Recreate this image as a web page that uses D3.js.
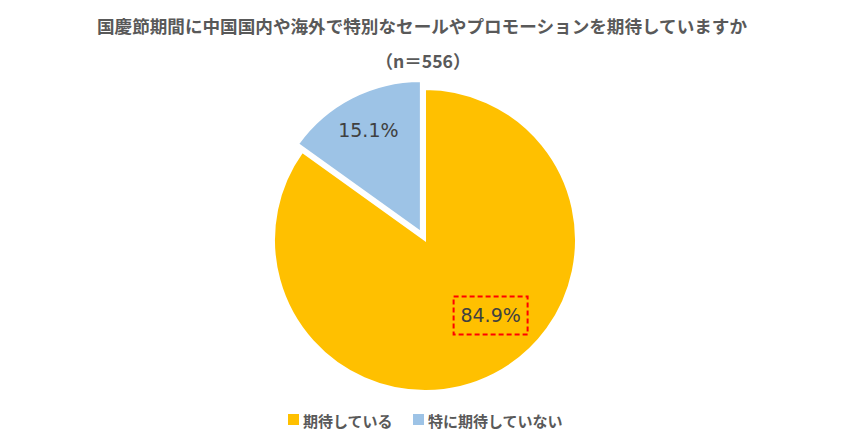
<!DOCTYPE html>
<html><head><meta charset="utf-8">
<script src="https://cdn.jsdelivr.net/npm/d3@7"></script>
<style>body{margin:0;background:#fff}svg{display:block}</style>
</head><body>
<svg id="c" width="847" height="443"></svg>
<script>
const titleLines = ["国慶節期間に中国国内や海外で特別なセールやプロモーションを期待していますか", "（n＝556）"];
const categories = ["期待している", "特に期待していない"];
const values = [84.9, 15.1];
const colors = ["#FFC000", "#9DC3E6"];

const svg = d3.select("#c");
const W = 847, H = 443;
const cx = 425, cy = 240, R = 151;
const fontJP = "'Noto Sans CJK JP','Noto Sans',sans-serif";

svg.append("g").selectAll("text").data(titleLines).join("text")
  .attr("x", (d,i)=> i===0 ? 422 : 423).attr("y", (d,i)=> i===0 ? 33 : 68)
  .attr("text-anchor","middle")
  .attr("font-family", fontJP).attr("font-weight","bold")
  .attr("font-size", 17.6)
  .attr("fill","#595959").text(d=>d);

const pie = d3.pie().sort(null).value(d=>d.v).startAngle(0).endAngle(2*Math.PI);
const data = pie(categories.map((c,i)=>({c, v: values[i], col: colors[i]})));
const arc = d3.arc().innerRadius(0).outerRadius(R);
const explode = [0, 9];

const g = svg.append("g").attr("transform", `translate(${cx},${cy})`);
const slices = g.selectAll("g.s").data(data).join("g").attr("class","s")
  .attr("transform", (d,i)=>{
    const a = (d.startAngle + d.endAngle)/2;
    return `translate(${Math.sin(a)*explode[i]},${-Math.cos(a)*explode[i]})`;
  });
slices.append("path").attr("d", arc).attr("fill", d=>d.data.col)
  .attr("stroke","#fff").attr("stroke-width",2);

// labels: polar placement (angle in radians from top, radius)
const labelPos = [{a: 139*Math.PI/180, r: 100}, {a: null, r: 115}];
slices.each(function(d,i){
  const a = labelPos[i].a === null ? (d.startAngle+d.endAngle)/2 : labelPos[i].a;
  const x = Math.sin(a)*labelPos[i].r, y = -Math.cos(a)*labelPos[i].r;
  const sel = d3.select(this);
  sel.append("text").attr("x", x).attr("y", y)
    .attr("text-anchor","middle").attr("dominant-baseline","central")
    .attr("font-family","'DejaVu Sans',sans-serif").attr("font-size",19)
    .attr("fill","#404040").text(d.data.v.toFixed(1)+"%");
  if(i===0){
    sel.insert("rect","text").attr("x", x-37).attr("y", y-19).attr("width",74).attr("height",38)
      .attr("fill","none").attr("stroke","#FF0000").attr("stroke-width",2).attr("stroke-dasharray","5,3");
  }
});

// legend
const legendX = [288, 413];
const lg = svg.append("g").selectAll("g").data(categories).join("g")
  .attr("transform",(d,i)=>`translate(${legendX[i]},414)`);
lg.append("rect").attr("width",11).attr("height",11).attr("fill",(d,i)=>colors[i]);
lg.append("text").attr("x",15).attr("y",6).attr("dominant-baseline","central")
  .attr("font-family",fontJP).attr("font-weight","bold").attr("font-size",15)
  .attr("fill","#595959").text(d=>d);
</script>
</body></html>
